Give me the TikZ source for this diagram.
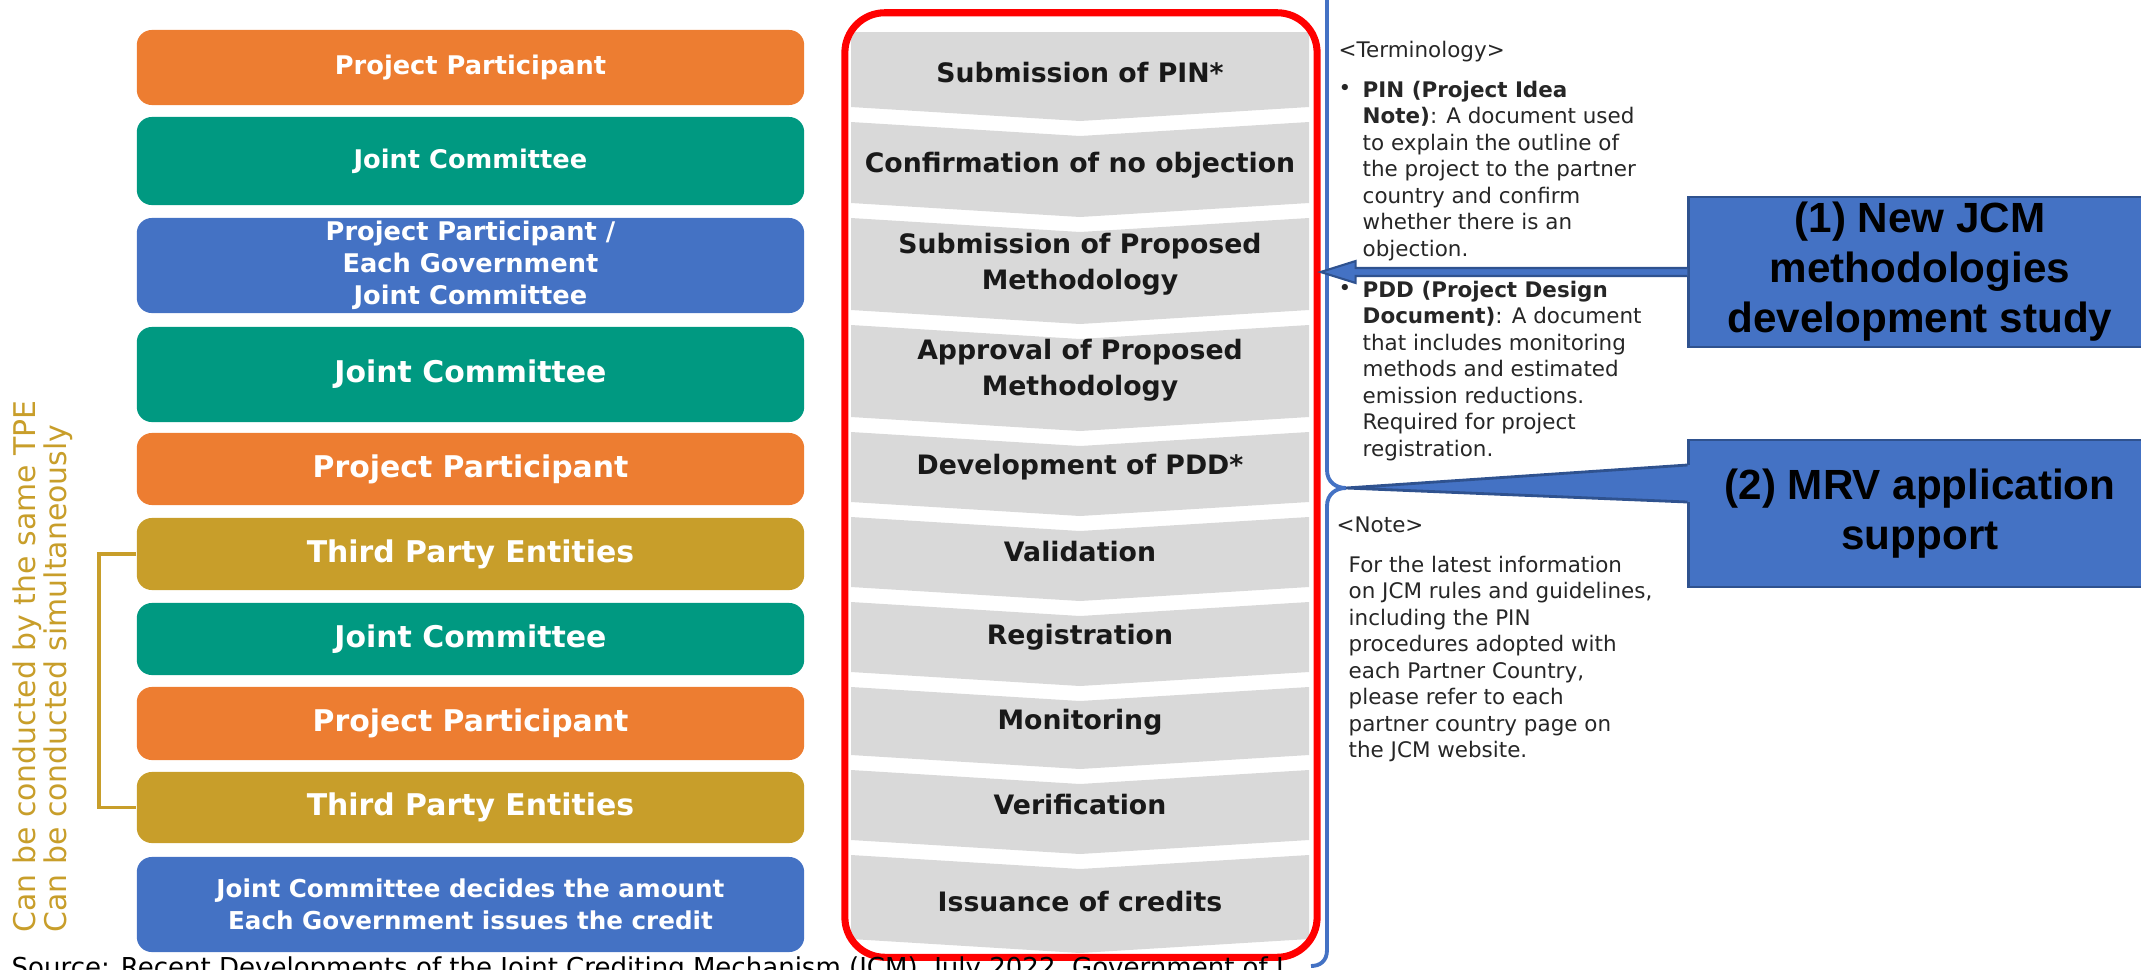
\documentclass[tikz,border=0pt]{standalone}
\usepackage{fontspec}
\setmainfont{DejaVu Sans}
\newfontfamily\calloutfont{Liberation Sans}
\usetikzlibrary{arrows.meta,calc}

\definecolor{ppOrange}{RGB}{237,125,49}
\definecolor{jcTeal}{RGB}{0,153,129}
\definecolor{egBlue}{RGB}{68,114,196}
\definecolor{tpGold}{RGB}{200,158,42}
\definecolor{bandGray}{RGB}{217,217,217}
\definecolor{frameRed}{RGB}{255,0,0}
\definecolor{calloutBlue}{RGB}{68,114,196}
\definecolor{calloutEdge}{RGB}{47,82,143}

\tikzset{
  actor/.style={rounded corners=0.15cm, minimum width=6.67cm, text=white, align=center, inner sep=0pt},
  smalltxt/.style={font=\fontsize{7.3}{9.1}\selectfont\bfseries},
  largetxt/.style={font=\fontsize{8.5}{10}\selectfont\bfseries},
  band/.style={fill=bandGray},
  steptext/.style={font=\fontsize{7.6}{10.3}\selectfont\bfseries, align=center, inner sep=0pt, text=black!90},
  redframe/.style={draw=frameRed, line width=2pt, rounded corners=0.4cm, inner sep=0pt},
  sidenote/.style={rotate=90, anchor=base west, text=tpGold, font=\fontsize{8.5}{10}\selectfont, inner sep=0pt},
  tpebracket/.style={draw=tpGold, line width=1.1pt},
  notetxt/.style={font=\fontsize{6.1}{7.55}\selectfont, align=left, inner sep=0pt, text=black!85},
  brace/.style={draw=calloutBlue, line width=1.1pt},
  callout/.style={fill=calloutBlue, draw=calloutEdge, line width=0.8pt, align=center, inner sep=0pt,
    font=\calloutfont\fontsize{12}{14.2}\selectfont\bfseries},
  calloutarrow/.style={fill=calloutBlue, draw=calloutEdge, line width=0.6pt},
}

\begin{document}
\begin{tikzpicture}[x=0.01cm,y=-0.01cm]
%\draw[step=50,gray,very thin] (0,0) grid (2141,969);
\useasboundingbox (0,0) rectangle (2141,969);

% who does it
\node[actor, smalltxt, fill=ppOrange, minimum height=0.75cm] (pp1) at (470.5,67.5) {Project Participant};
\node[actor, smalltxt, fill=jcTeal, minimum height=0.88cm] (jc1) at (470.5,161) {Joint Committee};
\node[actor, smalltxt, fill=egBlue, minimum height=0.95cm] (pe1) at (470.5,265.5) {Project Participant /\\Each Government\\Joint Committee};
\node[actor, largetxt, fill=jcTeal, minimum height=0.95cm] (jc2) at (470.5,374.5) {Joint Committee};
\node[actor, largetxt, fill=ppOrange, minimum height=0.72cm] (pp2) at (470.5,469) {Project Participant};
\node[actor, largetxt, fill=tpGold, minimum height=0.72cm] (tpe1) at (470.5,554) {Third Party Entities};
\node[actor, largetxt, fill=jcTeal, minimum height=0.72cm] (jc3) at (470.5,639) {Joint Committee};
\node[actor, largetxt, fill=ppOrange, minimum height=0.73cm] (pp3) at (470.5,723.5) {Project Participant};
\node[actor, largetxt, fill=tpGold, minimum height=0.71cm] (tpe2) at (470.5,807.5) {Third Party Entities};
\node[actor, font=\fontsize{7}{9.1}\selectfont\bfseries, fill=egBlue, minimum height=0.95cm] (jc4) at (470.5,904.5) {Joint Committee decides the amount\\Each Government issues the credit};

\draw[tpebracket] (tpe1.west) -- ++(-37,0) |- (tpe2.west);
\node[sidenote] (same) at (35,933) {Can be conducted by the same TPE};
\node[sidenote] (simul) at (67,933) {Can be conducted simultaneously};

% steps
\fill[band] (851,32) -- (1309,32) -- (1309,107) -- (1080,121) -- (851,107) -- cycle;
\fill[band] (851,122) -- (1080,136) -- (1309,122) -- (1309,203) -- (1080,217) -- (851,203) -- cycle;
\fill[band] (851,218) -- (1080,232) -- (1309,218) -- (1309,310) -- (1080,324) -- (851,310) -- cycle;
\fill[band] (851,325) -- (1080,339) -- (1309,325) -- (1309,417) -- (1080,431) -- (851,417) -- cycle;
\fill[band] (851,432) -- (1080,446) -- (1309,432) -- (1309,502) -- (1080,516) -- (851,502) -- cycle;
\fill[band] (851,517) -- (1080,531) -- (1309,517) -- (1309,587) -- (1080,601) -- (851,587) -- cycle;
\fill[band] (851,602) -- (1080,616) -- (1309,602) -- (1309,672) -- (1080,686) -- (851,672) -- cycle;
\fill[band] (851,687) -- (1080,701) -- (1309,687) -- (1309,755) -- (1080,769) -- (851,755) -- cycle;
\fill[band] (851,770) -- (1080,784) -- (1309,770) -- (1309,840) -- (1080,854) -- (851,840) -- cycle;
\fill[band] (851,855) -- (1080,869) -- (1309,855) -- (1309,939) -- (1080,953) -- (851,939) -- cycle;

\node[redframe, minimum width=4.72cm, minimum height=9.44cm] (redbox) at (1081,485) {};

\node[steptext] (s1) at (1080,73) {Submission of PIN*};
\node[steptext] (s2) at (1080,165) {Confirmation of no objection};
\node[steptext] (s3) at (1080,264) {Submission of Proposed\\Methodology};
\node[steptext] (s4) at (1080,370) {Approval of Proposed\\Methodology};
\node[steptext] (s5) at (1080,467) {Development of PDD*};
\node[steptext] (s6) at (1080,552) {Validation};
\node[steptext] (s7) at (1080,637) {Registration};
\node[steptext] (s8) at (1080,722) {Monitoring};
\node[steptext] (s9) at (1080,805) {Verification};
\node[steptext] (s10) at (1080,902) {Issuance of credits};

% notes panel
\coordinate (bracetip) at (1346,488);
\draw[brace] (1327,-10) -- (1327,470) .. controls (1327,482) and (1336,488) .. (bracetip)
  .. controls (1336,488) and (1327,494) .. (1327,506) -- (1327,950)
  .. controls (1327,961) and (1320,966) .. (1311,966);

\node[notetxt, anchor=west] (termhead) at (1338,52) {<Terminology>};
\node[notetxt, anchor=west] (bul1) at (1338,90) {•};
\node[notetxt, anchor=north west] (pin) at (1362,80) {\textbf{PIN (Project Idea}\\\textbf{Note)}: A document used\\to explain the outline of\\the project to the partner\\country and confirm\\whether there is an\\objection.};
\node[notetxt, anchor=west] (bul2) at (1338,290) {•};
\node[notetxt, anchor=north west] (pdd) at (1362,280) {\textbf{PDD (Project Design}\\\textbf{Document)}: A document\\that includes monitoring\\methods and estimated\\emission reductions.\\Required for project\\registration.};
\node[notetxt, anchor=west] (notehead) at (1336,525) {<Note>};
\node[notetxt, anchor=north west] (notebody) at (1348,555) {For the latest information\\on JCM rules and guidelines,\\including the PIN\\procedures adopted with\\each Partner Country,\\please refer to each\\partner country page on\\the JCM website.};

% callouts
\node[callout, minimum width=4.62cm, minimum height=1.5cm] (call1) at (1920,272) {(1) New JCM\\methodologies\\development study};
\node[callout, minimum width=4.62cm, minimum height=1.47cm] (call2) at (1920,513.5) {(2) MRV application\\support};

\coordinate (arrtip) at (call1.west -| redbox.east);
\filldraw[calloutarrow] ($(call1.west)+(0,-4)$) -- ($(arrtip)+(35,-4)$) -- ($(arrtip)+(35,-11)$) -- (arrtip)
  -- ($(arrtip)+(35,11)$) -- ($(arrtip)+(35,4)$) -- ($(call1.west)+(0,4)$);
\fill[calloutBlue] ($(call2.west)+(3,-48.5)$) -- (bracetip) -- ($(call2.west)+(3,-11.5)$) -- cycle;
\draw[calloutEdge, line width=0.8pt] ($(call2.west)+(0,-48.5)$) -- (bracetip) -- ($(call2.west)+(0,-11.5)$);

\node[anchor=base west, font=\fontsize{7.4}{9}\selectfont, inner sep=0pt] (src) at (11,976) {Source: Recent Developments of the Joint Crediting Mechanism (JCM), July 2022, Government of J};
\end{tikzpicture}
\end{document}
